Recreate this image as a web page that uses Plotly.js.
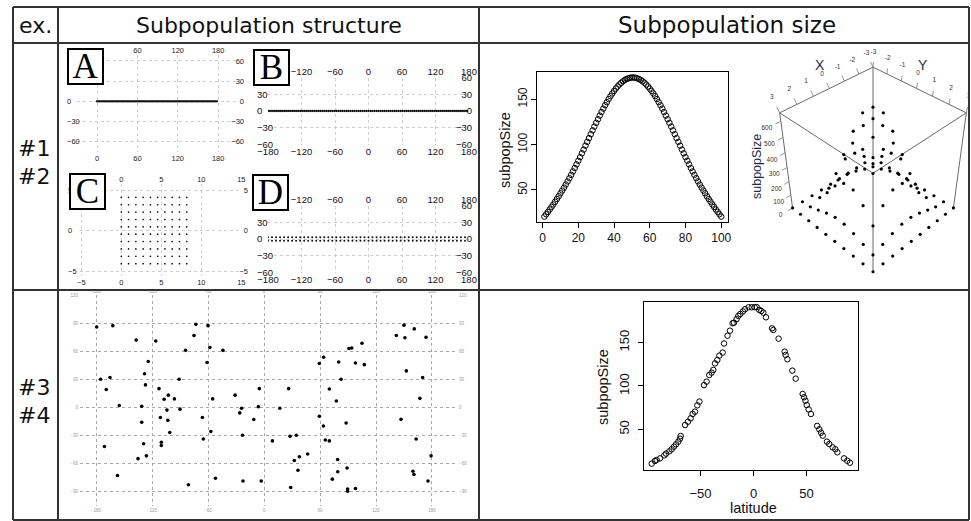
<!DOCTYPE html>
<html><head><meta charset="utf-8">
<script src="https://cdn.plot.ly/plotly-3.0.1.min.js"></script>
<style>html,body{margin:0;padding:0;background:#fff;}#chart{width:971px;height:521px;}</style>
</head><body><div id="chart"></div>
<script>
// ---------------- DATA ----------------
// Panel A: 1-D chain of 100 demes (x position), all at y = 0
const chainAx = [0,1.8,3.6,5.4,7.2,9,10.8,12.6,14.4,16.2,18,19.8,21.6,23.4,25.2,27,28.8,30.6,32.4,34.2,
36,37.8,39.6,41.4,43.2,45,46.8,48.6,50.4,52.2,54,55.8,57.6,59.4,61.2,63,64.8,66.6,68.4,70.2,
72,73.8,75.6,77.4,79.2,81,82.8,84.6,86.4,88.2,90,91.8,93.6,95.4,97.2,99,100.8,102.6,104.4,106.2,
108,109.8,111.6,113.4,115.2,117,118.8,120.6,122.4,124.2,126,127.8,129.6,131.4,133.2,135,136.8,138.6,140.4,142.2,
144,145.8,147.6,149.4,151.2,153,154.8,156.6,158.4,160.2,162,163.8,165.6,167.4,169.2,171,172.8,174.6,176.4,178.2];
const chainAy = [0,0,0,0,0,0,0,0,0,0,0,0,0,0,0,0,0,0,0,0,0,0,0,0,0,0,0,0,0,0,0,0,0,0,0,0,0,0,0,0,0,0,0,0,0,0,0,0,0,0,
0,0,0,0,0,0,0,0,0,0,0,0,0,0,0,0,0,0,0,0,0,0,0,0,0,0,0,0,0,0,0,0,0,0,0,0,0,0,0,0,0,0,0,0,0,0,0,0,0,0];
// Panel B: ring of 100 demes along the equator
const ringBlon = [-180,-176.4,-172.8,-169.2,-165.6,-162,-158.4,-154.8,-151.2,-147.6,-144,-140.4,-136.8,-133.2,-129.6,-126,-122.4,-118.8,-115.2,-111.6,
-108,-104.4,-100.8,-97.2,-93.6,-90,-86.4,-82.8,-79.2,-75.6,-72,-68.4,-64.8,-61.2,-57.6,-54,-50.4,-46.8,-43.2,-39.6,
-36,-32.4,-28.8,-25.2,-21.6,-18,-14.4,-10.8,-7.2,-3.6,0,3.6,7.2,10.8,14.4,18,21.6,25.2,28.8,32.4,
36,39.6,43.2,46.8,50.4,54,57.6,61.2,64.8,68.4,72,75.6,79.2,82.8,86.4,90,93.6,97.2,100.8,104.4,
108,111.6,115.2,118.8,122.4,126,129.6,133.2,136.8,140.4,144,147.6,151.2,154.8,158.4,162,165.6,169.2,172.8,176.4];
const ringBlat = [0,0,0,0,0,0,0,0,0,0,0,0,0,0,0,0,0,0,0,0,0,0,0,0,0,0,0,0,0,0,0,0,0,0,0,0,0,0,0,0,0,0,0,0,0,0,0,0,0,0,
0,0,0,0,0,0,0,0,0,0,0,0,0,0,0,0,0,0,0,0,0,0,0,0,0,0,0,0,0,0,0,0,0,0,0,0,0,0,0,0,0,0,0,0,0,0,0,0,0,0];
// Panel C: 10 x 10 lattice
const latticeCx = [0,0.91,1.82,2.73,3.64,4.55,5.45,6.36,7.27,8.18];
const latticeCy = [-4.09,-3.18,-2.27,-1.36,-0.45,0.45,1.36,2.27,3.18,4.09];
// Panel D: 2 x 50 cylinder lattice
const cylDlon = [-180,-172.8,-165.6,-158.4,-151.2,-144,-136.8,-129.6,-122.4,-115.2,-108,-100.8,-93.6,-86.4,-79.2,-72,-64.8,-57.6,-50.4,-43.2,
-36,-28.8,-21.6,-14.4,-7.2,0,7.2,14.4,21.6,28.8,36,43.2,50.4,57.6,64.8,72,79.2,86.4,93.6,100.8,
108,115.2,122.4,129.6,136.8,144,151.2,158.4,165.6,172.8];
const cylDlat = [3,-3];
// Subpopulation size along the chain (index 1..100)
const chainSize = [20.6,23.2,25.8,28.5,31.3,34,37,40,43,46.3,49.4,52.6,56,59.4,63,66.6,70.4,74.2,78.2,82.2,
86.2,90.4,94.5,98.8,103,107.2,111.5,115.7,119.9,124,128,132,135.9,139.7,143.4,146.8,150.2,153.4,156.4,159.2,
161.8,164.1,166.3,168.2,169.8,171.2,172.3,173.1,173.7,174,
174,173.7,173.1,172.3,171.2,169.8,168.2,166.3,164.1,161.8,159.2,156.4,153.4,150.2,146.8,143.4,139.7,135.9,132,128,
124,119.9,115.7,111.5,107.2,103,98.8,94.5,90.4,86.2,82.2,78.2,74.2,70.4,66.6,63,59.4,56,52.6,49.4,
46.3,43,40,37,34,31.3,28.5,25.8,23.2,20.6];
// 3-D example: 10 x 10 grid with subpopulation sizes
const grid3X = [-3,-2.333,-1.667,-1,-0.333,0.333,1,1.667,2.333,3];
const grid3Y = [-3,-2.333,-1.667,-1,-0.333,0.333,1,1.667,2.333,3];
const grid3Size = [
 [0,0,0,0,0,0,0,0,0,0],
 [0,9,33,60,78,78,60,33,9,0],
 [0,33,118,214,277,277,214,118,33,0],
 [0,60,214,388,502,502,388,214,60,0],
 [0,78,277,502,650,650,502,277,78,0],
 [0,78,277,502,650,650,502,277,78,0],
 [0,60,214,388,502,502,388,214,60,0],
 [0,33,118,214,277,277,214,118,33,0],
 [0,9,33,60,78,78,60,33,9,0],
 [0,0,0,0,0,0,0,0,0,0]];
// Map of random demes (lon, lat)
const mapLon = [-179.3,-162,-137,-116,-124,-128,-127,-175,-165,-169,-155,-131,-131,-129,-126,-135,-171,-157,-112.5,-107,
-102.5,-96,-104,-111,-103,-101,-110,-110,-91,-90,-84,-75,-73,-60,-58,-61,-55,-66,-57,-65,
-81,-52,-44,-31,-24,-26,-5,-6,-11,-23,-22.5,-3,9,17,
26.4,27.9,34.6,32.5,37.9,46.8,36.4,28.6,59.3,63.9,59.3,63.6,65.7,70,70,77.5,80,82.5,88,78.9,
79,89,73.2,89.6,89.6,98,91,94,98,105,107.5,141.8,150,151,161,173.6,152.5,170,167,146.8,
163,159.6,160.7,179,175.7];
const mapLat = [86.1,87.5,72,71,49,36,24,30,32,19,2,1,-16,-39,-52,-55,-42,-73,20,8.6,
13,9,-3,-11,-14,-27,-37.5,-41,30,-2,61,77,89,87.5,64,48,9,-11,-26,-34,
-83,-76,61,13,-1,-6,20,0.7,-13,-30,-79,-79,-36,-1,
20,-31,-30,-57,-53,-50,-67.5,-86,47,53.6,-9.6,-20,-35,-36,19.6,6.8,48.6,30,-16.8,-56,
-69,-65,-77,-87.5,-90,-87,63,63.6,47.5,68.6,45.7,77,88,74.6,84,75,39,32,9.6,-12.9,
-34,-68.6,-72,-52,-79];
// Subpopulation size vs latitude
const latSizeLat = [-96,-93,-91.4,-88.2,-84.1,-82.5,-79.4,-77.2,-75,-73.1,-70.9,-69.3,-68.7,-64.5,-61.8,-59.3,-57.4,-55.2,-53,-51,
-46.7,-44.2,-41.7,-39.5,-37.9,-36.3,-34.1,-32.2,-29.1,-27.8,-24.5,-22.2,-19.7,-18.4,-16,-14.3,-12.4,-10,-8,-4.6,
-1.7,1.1,3,5.5,7.4,9.3,11.8,17.5,18.7,23.7,29.4,30.3,32,36.6,39.8,46.4,47.7,49,50.2,52,
54.2,60,62.1,63.7,65.3,69.3,71.5,74.7,77.2,79.1,85.4,88.5,91];
const latSizeVal = [10.4,13.5,14.6,16.5,20,22,24.6,27,30,32.7,35.8,39.2,42.3,55,58.8,62.7,67.7,70.4,77.7,82,
101,105,112.7,115.4,118.5,126,130,135,138.5,149,158,163.8,172.3,173,177,180.8,183,186,188.5,190.8,
190.8,190.8,191,187.7,186.5,184.6,179.2,166.5,164.6,154.6,139.6,135.8,130.8,117.7,108.5,90.8,87,83,78,73,
67.7,54,50,46.2,42.7,35.8,33,29.2,27,23.5,16.5,13.8,11.5];

// tick values
const ticksA_x = [0,60,120,180], ticksA_y = [-60,-30,0,30,60];
const ticksB_x = [-180,-120,-60,0,60,120,180], ticksB_y = [-60,-30,0,30,60];
const ticksC_x = [-5,0,5,10,15], ticksC_y = [-5,0,5];
const ticksIdx = [0,20,40,60,80,100], ticksSize = [50,100,150];
const ticksMap_x = [-180,-120,-60,0,60,120,180], ticksMap_y = [-90,-60,-30,0,30,60,90,120];
const ticksLat = [-50,0,50];
const ticks3_xy = [-3,-2,-1,0,1,2,3], ticks3_z = [0,100,200,300,400,500,600];

// ---------------- LAYOUT HELPERS ----------------
const W = 971, H = 521;
const fx = (a,b) => [a/W, b/W];
const fy = (t,b) => [1-b/H, 1-t/H];
const idn = n => n === 1 ? '' : String(n);
const traces = [];
const layout = {width:W, height:H, margin:{l:0,r:0,t:0,b:0}, paper_bgcolor:'#fff', plot_bgcolor:'#fff',
  showlegend:false, shapes:[], annotations:[]};

function structPanel(n, s){
  const m = n+1;
  const common = {showline:false, zeroline:false, ticks:'', tickfont:s.font, fixedrange:true, ticklabeloverflow:'allow'};
  layout['xaxis'+idn(n)] = Object.assign({}, common, {domain:fx(s.l,s.r), anchor:'y'+idn(n), range:s.xr, tickvals:s.xt,
     showgrid:true, gridcolor:s.grid, griddash:'dot', gridwidth:1, ticklabelstandoff:s.sb||0});
  layout['yaxis'+idn(n)] = Object.assign({}, common, {domain:fy(s.t,s.b), anchor:'x'+idn(n), range:s.yr, tickvals:s.yt,
     showgrid:true, gridcolor:s.grid, griddash:'dot', gridwidth:1,
     ticklabelposition:s.yin ? 'inside' : 'outside', ticklabelstandoff:s.sl||0});
  layout['xaxis'+m] = Object.assign({}, common, {overlaying:'x'+idn(n), anchor:'y'+idn(n), side:'top', range:s.xr, tickvals:s.xt,
     showgrid:false, ticklabelstandoff:s.st||0});
  layout['yaxis'+m] = Object.assign({}, common, {overlaying:'y'+idn(n), anchor:'x'+idn(n), side:'right', range:s.yr, tickvals:s.yt,
     showgrid:false, ticklabelposition:s.yin ? 'inside' : 'outside', ticklabelstandoff:s.sr||0});
  traces.push({type:'scatter', x:[], y:[], xaxis:'x'+m, yaxis:'y'+m, hoverinfo:'skip'});
}
function pxRange(p0, p1, origin, scale){ return [(p0-origin)/scale, (p1-origin)/scale]; }
function pyRange(pt, pb, origin, scale){ return [(origin-pb)/scale, (origin-pt)/scale]; }

const smallFont = {family:'Liberation Sans, Arial, sans-serif', size:7.5, color:'#222'};
const narrowFont = {family:'Liberation Sans Narrow, Liberation Sans, Arial, sans-serif', size:9.5, color:'#111'};

// Panel A
structPanel(1, {l:77, r:237, t:55, b:152, xr:pxRange(77,237,97,0.673), yr:pyRange(55,152,101.3,0.673),
  xt:ticksA_x, yt:ticksA_y, font:smallFont, grid:'#cfcfcf', yin:true, sl:-13, sr:-10});
traces.push({type:'scatter', mode:'markers', x:chainAx, y:chainAy, xaxis:'x', yaxis:'y',
  marker:{size:2.3, color:'#111'}, hoverinfo:'skip'});
// Panel B
structPanel(3, {l:268, r:469, t:77.5, b:144.5, xr:pxRange(268,469,368.5,0.5583), yr:pyRange(77.5,144.5,111,0.5583),
  xt:ticksB_x, yt:ticksB_y, font:narrowFont, grid:'#cfcfcf', yin:true, sl:-14, sr:-6});
traces.push({type:'scatter', mode:'markers', x:ringBlon, y:ringBlat, xaxis:'x3', yaxis:'y3',
  marker:{size:2.3, color:'#111'}, hoverinfo:'skip'});
// Panel C
structPanel(5, {l:80, r:242, t:184, b:276, xr:pxRange(80,242,121.3,8.0), yr:pyRange(184,276,230.5,8.1),
  xt:ticksC_x, yt:ticksC_y, font:smallFont, grid:'#cfcfcf', yin:true, sl:-15, sr:-9});
{
  const cx=[], cy=[];
  latticeCy.forEach(yv => latticeCx.forEach(xv => { cx.push(xv); cy.push(yv); }));
  traces.push({type:'scatter', mode:'markers', x:cx, y:cy, xaxis:'x5', yaxis:'y5',
    marker:{size:1.7, color:'#111'}, hoverinfo:'skip'});
}
// Panel D
structPanel(7, {l:268, r:469, t:205.5, b:272.5, xr:pxRange(268,469,368.5,0.5583), yr:pyRange(205.5,272.5,239,0.5583),
  xt:ticksB_x, yt:ticksB_y, font:narrowFont, grid:'#cfcfcf', yin:true, sl:-14, sr:-6});
{
  const dx=[], dy=[];
  cylDlat.forEach(yv => cylDlon.forEach(xv => { dx.push(xv); dy.push(yv); }));
  traces.push({type:'scatter', mode:'markers', x:dx, y:dy, xaxis:'x7', yaxis:'y7',
    marker:{size:2, color:'#111'}, hoverinfo:'skip'});
}

// R-style plot axes
function rAxis(domain, range, tickvals, extra){
  return Object.assign({domain:domain, range:range, tickvals:tickvals, ticks:'outside', ticklen:5, tickwidth:1,
    tickcolor:'#000', showline:true, mirror:true, linecolor:'#000', linewidth:1, showgrid:false, zeroline:false,
    fixedrange:true, tickfont:{family:'Liberation Sans, Arial, sans-serif', size:12, color:'#111'}}, extra||{});
}
// Line plot: size along chain
layout.xaxis9 = rAxis(fx(537.3,728.3), [-2.96,103.96], ticksIdx, {anchor:'y9'});
layout.yaxis9 = rAxis(fy(71.7,221.7), [15.0,180.4], ticksSize, {anchor:'x9', tickangle:-90});
traces.push({type:'scatter', mode:'markers', x:chainSize.map((v,i)=>i+1), y:chainSize, xaxis:'x9', yaxis:'y9',
  marker:{symbol:'circle-open', size:5.5, color:'#000', line:{width:1, color:'#000'}}, hoverinfo:'skip'});

// Map panel
const mapFont = {family:'Liberation Sans, Arial, sans-serif', size:4.5, color:'#999'};
structPanel(10, {l:80, r:457, t:295, b:506, xr:pxRange(80,457,264,0.9333), yr:pyRange(295,506,407.3,0.9333),
  xt:ticksMap_x, yt:ticksMap_y, font:mapFont, grid:'#a8a8a8', sl:1, sr:1});
traces.push({type:'scatter', mode:'markers', x:mapLon, y:mapLat, xaxis:'x10', yaxis:'y10',
  marker:{size:3.6, color:'#000'}, hoverinfo:'skip'});

// Latitude scatter
layout.xaxis12 = rAxis(fx(644.3,857.7), [-103,98.3], ticksLat, {anchor:'y12', ticklabelstandoff:6,
  tickfont:{family:'Liberation Sans, Arial, sans-serif', size:13, color:'#111'}});
layout.yaxis12 = rAxis(fy(301.7,470), [3.1,197.2], ticksSize, {anchor:'x12', tickangle:-90, ticklabelstandoff:4,
  tickfont:{family:'Liberation Sans, Arial, sans-serif', size:13, color:'#111'}});
traces.push({type:'scatter', mode:'markers', x:latSizeLat, y:latSizeVal, xaxis:'x12', yaxis:'y12',
  marker:{symbol:'circle-open', size:5.5, color:'#000', line:{width:1, color:'#000'}}, hoverinfo:'skip'});

// 3-D perspective scatter drawn on a 2-D axis pair through a camera projection
const view3 = {rho:3.3, hc:2.7, boxH:1.0, F:521, cx:873, cy:163.9, l:735, r:968, t:45, b:288};
{
  const x3=[], y3=[], z3=[];
  grid3X.forEach((xv,i) => grid3Y.forEach((yv,j) => { x3.push(xv); y3.push(yv); z3.push(grid3Size[i][j]); }));
  const xmn=Math.min(...grid3X), xmx=Math.max(...grid3X), ymn=Math.min(...grid3Y), ymx=Math.max(...grid3Y);
  const zmn=Math.min(...z3), zmx=Math.max(...z3);
  const C=[view3.rho/Math.SQRT2, view3.rho/Math.SQRT2, view3.hc];
  const cl=Math.hypot(C[0],C[1],C[2]);
  const v=[-C[0]/cl,-C[1]/cl,-C[2]/cl];
  const rl=Math.hypot(v[1],v[0]);
  const r=[v[1]/rl,-v[0]/rl,0];
  const u=[r[1]*v[2]-r[2]*v[1], r[2]*v[0]-r[0]*v[2], r[0]*v[1]-r[1]*v[0]];
  function proj(X,Y,Z){
    const p=[(X-(xmn+xmx)/2)/(xmx-xmn), (Y-(ymn+ymx)/2)/(ymx-ymn), (Z-(zmn+zmx)/2)/(zmx-zmn)*view3.boxH];
    const d=[p[0]-C[0], p[1]-C[1], p[2]-C[2]];
    const dep=d[0]*v[0]+d[1]*v[1]+d[2]*v[2];
    return [(d[0]*r[0]+d[1]*r[1]+d[2]*r[2])/dep, (d[0]*u[0]+d[1]*u[1]+d[2]*u[2])/dep];
  }
  function projTrace(pts, extra){
    const xs=[], ys=[];
    pts.forEach(p => { if(p===null){xs.push(null); ys.push(null);} else { const q=proj(p[0],p[1],p[2]); xs.push(q[0]); ys.push(q[1]); } });
    traces.push(Object.assign({type:'scatter', x:xs, y:ys, xaxis:'x13', yaxis:'y13', hoverinfo:'skip'}, extra));
  }
  layout.xaxis13 = {domain:fx(view3.l,view3.r), anchor:'y13', visible:false, fixedrange:true,
    range:[(view3.l-view3.cx)/view3.F, (view3.r-view3.cx)/view3.F]};
  layout.yaxis13 = {domain:fy(view3.t,view3.b), anchor:'x13', visible:false, fixedrange:true,
    range:[(view3.cy-view3.b)/view3.F, (view3.cy-view3.t)/view3.F]};
  // box edges: top face and four verticals
  const box = [[xmx,ymn,zmx],[xmn,ymn,zmx],[xmn,ymx,zmx],[xmx,ymx,zmx],[xmx,ymn,zmx],null,
    [xmx,ymn,zmn],[xmx,ymn,zmx],null,[xmn,ymn,zmn],[xmn,ymn,zmx],null,[xmn,ymx,zmn],[xmn,ymx,zmx],null,[xmx,ymx,zmn],[xmx,ymx,zmx]];
  projTrace(box, {mode:'lines', line:{color:'#6a6a6a', width:1}});
  // tick marks
  const dxy=(xmx-xmn), dz=(zmx-zmn);
  const tk=[];
  ticks3_xy.forEach(t => { tk.push([t,ymn,zmx],[t,ymn-0.03*dxy,zmx+0.04*dz],null); });
  ticks3_xy.forEach(t => { tk.push([xmn,t,zmx],[xmn-0.005*dxy,t,zmx+0.05*dz],null); });
  ticks3_z.forEach(t => { tk.push([xmx,ymn,t],[xmx+0.05*dxy,ymn,t],null); });
  projTrace(tk, {mode:'lines', line:{color:'#777', width:0.8}});
  const tf = {size:6.5, color:'#333', family:'Liberation Sans, Arial, sans-serif'};
  projTrace(ticks3_xy.map(t => [t, ymn-0.08*dxy, zmx+0.1*dz]), {mode:'text', text:ticks3_xy.map(String), textfont:tf});
  projTrace(ticks3_xy.map(t => [xmn-0.005*dxy, t, zmx+0.14*dz]), {mode:'text', text:ticks3_xy.map(String), textfont:tf});
  projTrace(ticks3_z.map(t => [xmx+0.13*dxy, ymn, t]), {mode:'text', text:ticks3_z.map(String), textfont:tf});
  // points
  projTrace(x3.map((xv,i) => [xv, y3[i], z3[i]]), {mode:'markers', marker:{size:3.2, color:'#000'}});
}

// ---------------- TABLE ----------------
const lc = '#333';
function hline(y){ layout.shapes.push({type:'line', xref:'paper', yref:'paper', x0:13/W, x1:969/W, y0:1-y/H, y1:1-y/H, line:{color:lc, width:2}}); }
function vline(x){ layout.shapes.push({type:'line', xref:'paper', yref:'paper', x0:x/W, x1:x/W, y0:1-7/H, y1:1-520/H, line:{color:lc, width:2}}); }
[7,43,290,520].forEach(hline);
[13,58,479,969].forEach(vline);

function txt(x, y, text, size, extra){
  layout.annotations.push(Object.assign({xref:'paper', yref:'paper', x:x/W, y:1-y/H, text:text, showarrow:false,
    xanchor:'center', yanchor:'middle', font:{family:'DejaVu Sans, sans-serif', size:size, color:'#111'}}, extra||{}));
}
txt(35.5, 25, 'ex.', 22);
txt(268.5, 25, 'Subpopulation structure', 22);
txt(727, 25, 'Subpopulation size', 23);
txt(34, 148, '#1', 22); txt(34, 176, '#2', 22);
txt(34, 387, '#3', 22); txt(34, 415, '#4', 22);
function letterBox(x, y, L){
  txt(x, y, L, 35, {font:{family:'Liberation Serif, DejaVu Serif, serif', size:35, color:'#000'},
    bgcolor:'#fff', bordercolor:'#000', borderwidth:2, borderpad:0, width:33, height:33});
}
letterBox(85.5, 66.3, 'A'); letterBox(271, 67.3, 'B'); letterBox(87, 191.7, 'C'); letterBox(270, 192, 'D');
const rf = {family:'Liberation Sans, Arial, sans-serif', size:14.5, color:'#111'};
txt(505, 150, 'subpopSize', 14.5, {font:rf, textangle:-90});
txt(603, 387, 'subpopSize', 14.5, {font:rf, textangle:-90});
txt(753, 508, 'latitude', 14.5, {font:rf});
txt(757, 167, 'subpopSize', 12.5, {font:{family:'Liberation Sans, Arial, sans-serif', size:12.5, color:'#1f2d4a'}, textangle:-90});
txt(820, 65, 'X', 14, {font:{family:'Liberation Sans, Arial, sans-serif', size:14, color:'#1f2d4a'}});
txt(923, 65, 'Y', 14, {font:{family:'Liberation Sans, Arial, sans-serif', size:14, color:'#1f2d4a'}});

Plotly.newPlot('chart', traces, layout, {displayModeBar:false, staticPlot:true});
</script></body></html>
